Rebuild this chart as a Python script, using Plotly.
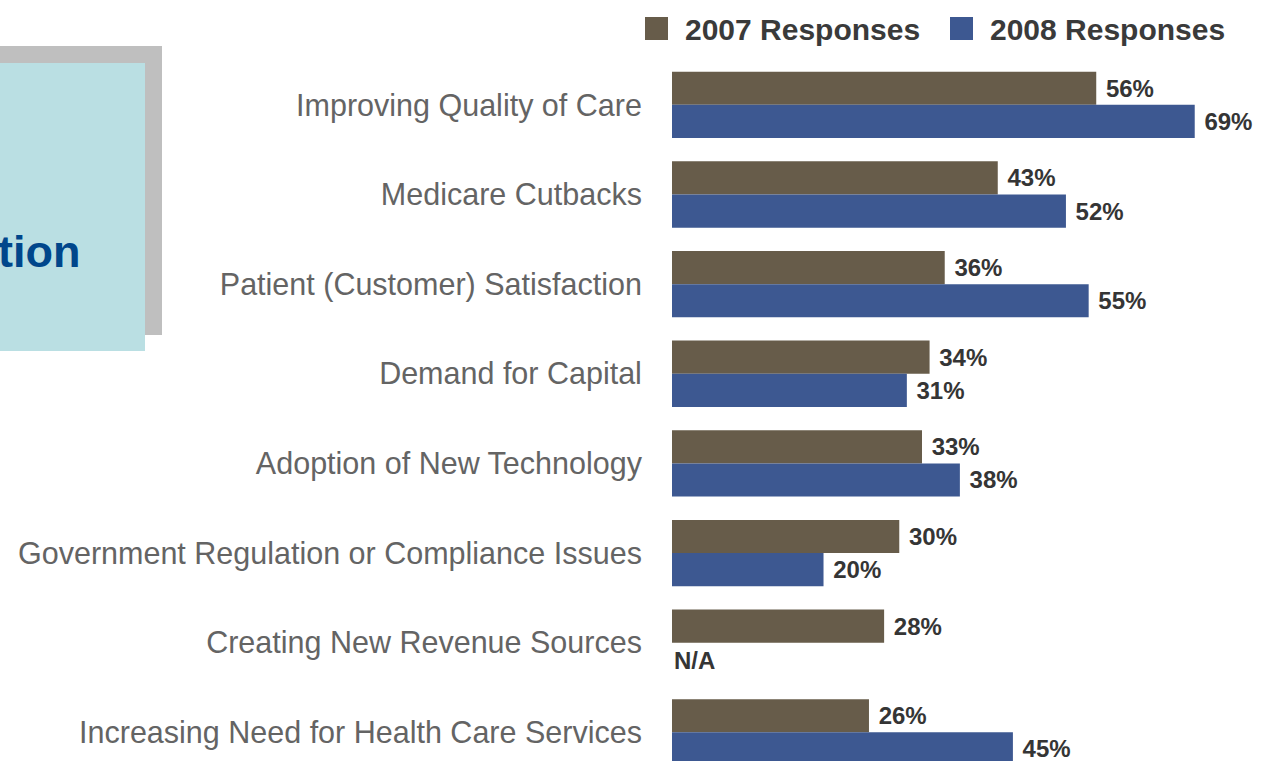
import plotly.graph_objects as go

# Survey data: share of respondents naming each issue
categories = [
    "Improving Quality of Care",
    "Medicare Cutbacks",
    "Patient (Customer) Satisfaction",
    "Demand for Capital",
    "Adoption of New Technology",
    "Government Regulation or Compliance Issues",
    "Creating New Revenue Sources",
    "Increasing Need for Health Care Services",
]
responses_2007 = [56, 43, 36, 34, 33, 30, 28, 26]
responses_2008 = [69, 52, 55, 31, 38, 20, None, 45]
series_names = ["2007 Responses", "2008 Responses"]
series_colors = ["#675c4a", "#3d5891"]

W, H = 1272, 761
ML = 672  # left margin holding the category labels
PLOT_W = W - ML

def px_x(px):
    """Convert a horizontal pixel position to paper coordinates."""
    return (px - ML) / PLOT_W

def px_y(py):
    """Convert a vertical pixel position (from top) to paper coordinates."""
    return (H - py) / H

FONT = "Liberation Sans, Arial, sans-serif"
label_font = dict(family=FONT, size=24, color="#353535")

fig = go.Figure()
for name, vals, color in zip(series_names, [responses_2007, responses_2008], series_colors):
    fig.add_trace(go.Bar(
        y=categories,
        x=vals,
        name=name,
        orientation="h",
        marker=dict(color=color, line=dict(width=0)),
        text=[f" <b>{v}%</b>" if v is not None else "" for v in vals],
        textposition="outside",
        textfont=label_font,
        cliponaxis=False,
        showlegend=False,
    ))

fig.update_layout(
    width=W,
    height=H,
    margin=dict(l=ML, r=0, t=0, b=0),
    paper_bgcolor="white",
    plot_bgcolor="white",
    barmode="group",
    bargap=0.26,
    bargroupgap=0.0,
    xaxis=dict(range=[0, 79.2], visible=False, fixedrange=True),
    yaxis=dict(
        range=[7.32, -1.17],
        showgrid=False,
        zeroline=False,
        showline=False,
        ticks="outside",
        ticklen=23,
        tickcolor="rgba(0,0,0,0)",
        tickfont=dict(family=FONT, size=30.5, color="#646464"),
        automargin=False,
    ),
)

# Missing 2008 value for the revenue-sources item
fig.add_annotation(
    x=0, y=categories[6], xref="x", yref="y",
    text="<b>N/A</b>", showarrow=False, xanchor="left", yanchor="middle",
    yshift=-18, font=label_font,
)

# Legend: colour swatch followed by series name
legend_items = [(645, 683), (950, 988)]
for (sx, tx), name, color in zip(legend_items, series_names, series_colors):
    fig.add_shape(
        type="rect", xref="paper", yref="paper",
        x0=px_x(sx), x1=px_x(sx + 23), y0=px_y(40), y1=px_y(17),
        fillcolor=color, line=dict(width=0),
    )
    fig.add_annotation(
        xref="paper", yref="paper", x=px_x(tx), y=px_y(29),
        text=f"<b>{name}</b>", showarrow=False, xanchor="left", yanchor="middle",
        font=dict(family=FONT, size=30, color="#3a3a3a"),
    )

# Call-out box with drop shadow in the upper left corner
fig.add_shape(
    type="rect", xref="paper", yref="paper",
    x0=px_x(0), x1=px_x(162), y0=px_y(335), y1=px_y(46),
    fillcolor="#bfbfbf", line=dict(width=0), layer="above",
)
fig.add_shape(
    type="rect", xref="paper", yref="paper",
    x0=px_x(-2), x1=px_x(145), y0=px_y(351), y1=px_y(63),
    fillcolor="#badfe3", line=dict(width=0), layer="above",
)
fig.add_annotation(
    xref="paper", yref="paper", x=px_x(82), y=px_y(251),
    text="<b>tion</b>", showarrow=False, xanchor="right", yanchor="middle",
    font=dict(family=FONT, size=45, color="#00468b"),
)

fig.write_html("out.html")
